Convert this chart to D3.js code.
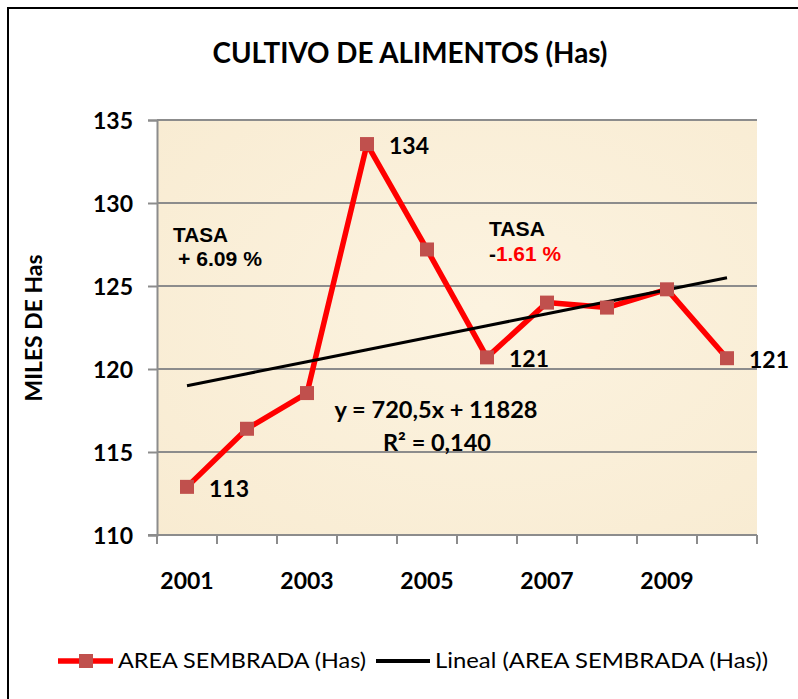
<!DOCTYPE html>
<html>
<head>
<meta charset="utf-8">
<script src="https://cdn.jsdelivr.net/npm/d3@7"></script>
<style>
body { margin: 0; background: #fff; }
svg { display: block; }
</style>
</head>
<body>
<div id="chart"></div>
<script>
var years = ["2001", "2002", "2003", "2004", "2005", "2006", "2007", "2008", "2009", "2010"];
var areaSembrada = [112.9, 116.4, 118.55, 133.55, 127.2, 120.7, 124.0, 123.7, 124.8, 120.65];
var shownLabels = { "2001": "113", "2004": "134", "2006": "121", "2010": "121" };
var xTickLabels = ["2001", "2003", "2005", "2007", "2009"];
var yTicks = [110, 115, 120, 125, 130, 135];

var width = 798, height = 699;
var plotL = 157, plotR = 757, plotT = 120, plotB = 535;
var font = "Lato, 'Open Sans', sans-serif";
var arial = "'Liberation Sans', Arial, sans-serif";

var svg = d3.select("#chart").append("svg")
    .attr("width", width)
    .attr("height", height);

// outer border
svg.append("rect")
    .attr("x", 8).attr("y", 8)
    .attr("width", 820).attr("height", 720)
    .attr("fill", "#fff")
    .attr("stroke", "#000")
    .attr("stroke-width", 2);

var x = d3.scaleBand().domain(years).range([plotL, plotR]);
var y = d3.scaleLinear().domain([110, 135]).range([plotB, plotT]);
var cx = function (d) { return x(d) + x.bandwidth() / 2; };

// parchment-ish background
var defs = svg.append("defs");
var grad = defs.append("radialGradient").attr("id", "parch")
    .attr("cx", "55%").attr("cy", "45%").attr("r", "80%");
grad.append("stop").attr("offset", "0%").attr("stop-color", "#fcf3e0");
grad.append("stop").attr("offset", "100%").attr("stop-color", "#f8ebd1");

svg.append("rect")
    .attr("x", plotL).attr("y", plotT)
    .attr("width", plotR - plotL).attr("height", plotB - plotT)
    .attr("fill", "url(#parch)");

// grid lines
svg.selectAll("line.grid")
    .data(yTicks.slice(1))
    .enter().append("line")
    .attr("class", "grid")
    .attr("x1", plotL).attr("x2", plotR)
    .attr("y1", function (d) { return y(d); })
    .attr("y2", function (d) { return y(d); })
    .attr("stroke", "#8c8c8c")
    .attr("stroke-width", 2);

// y axis
var yAxis = svg.append("g")
    .attr("transform", "translate(" + plotL + ",0)")
    .call(d3.axisLeft(y).tickValues(yTicks).tickSize(9).tickPadding(15));
yAxis.select(".domain").attr("stroke", "#8c8c8c").attr("stroke-width", 2);
yAxis.selectAll(".tick line").attr("stroke", "#8c8c8c").attr("stroke-width", 2);
yAxis.selectAll(".tick text")
    .style("font-family", font).style("font-size", "23px").style("font-weight", "bold")
    .attr("fill", "#000").attr("dy", "0.35em");

// x axis: ticks at category boundaries
var xBounds = years.map(function (d) { return x(d); }).concat([plotR]);
svg.append("line")
    .attr("x1", plotL - 9).attr("x2", plotR)
    .attr("y1", plotB).attr("y2", plotB)
    .attr("stroke", "#8c8c8c").attr("stroke-width", 2);
svg.selectAll("line.xtick")
    .data(xBounds)
    .enter().append("line")
    .attr("class", "xtick")
    .attr("x1", function (d) { return d; }).attr("x2", function (d) { return d; })
    .attr("y1", plotB).attr("y2", plotB + 9)
    .attr("stroke", "#8c8c8c").attr("stroke-width", 2);
svg.selectAll("text.xlab")
    .data(xTickLabels)
    .enter().append("text")
    .attr("class", "xlab")
    .attr("x", cx)
    .attr("y", 589)
    .attr("text-anchor", "middle")
    .style("font-family", font).style("font-size", "23px").style("font-weight", "bold")
    .text(function (d) { return d; });

// linear trend (least squares over the series)
var n = areaSembrada.length;
var mx = d3.mean(d3.range(1, n + 1)), my = d3.mean(areaSembrada);
var sxy = 0, sxx = 0;
areaSembrada.forEach(function (v, i) {
    sxy += (i + 1 - mx) * (v - my);
    sxx += (i + 1 - mx) * (i + 1 - mx);
});
var slope = sxy / sxx, icpt = my - slope * mx;
var trend = years.map(function (d, i) { return { year: d, v: icpt + slope * (i + 1) }; });

var series = years.map(function (d, i) { return { year: d, v: areaSembrada[i] }; });

var line = d3.line()
    .x(function (d) { return cx(d.year); })
    .y(function (d) { return y(d.v); });

svg.append("path")
    .datum(series)
    .attr("d", line)
    .attr("fill", "none")
    .attr("stroke", "#ff0000")
    .attr("stroke-width", 5.5)
    .attr("stroke-linejoin", "round");

svg.append("path")
    .datum(trend)
    .attr("d", line)
    .attr("fill", "none")
    .attr("stroke", "#000")
    .attr("stroke-width", 3);

svg.selectAll("rect.mk")
    .data(series)
    .enter().append("rect")
    .attr("class", "mk")
    .attr("x", function (d) { return cx(d.year) - 7; })
    .attr("y", function (d) { return y(d.v) - 7; })
    .attr("width", 14).attr("height", 14)
    .attr("fill", "#c0504d");

svg.selectAll("text.vlab")
    .data(series.filter(function (d) { return shownLabels[d.year]; }))
    .enter().append("text")
    .attr("class", "vlab")
    .attr("x", function (d) { return cx(d.year) + 22; })
    .attr("y", function (d) { return y(d.v) + 10; })
    .style("font-family", font).style("font-size", "23px").style("font-weight", "bold")
    .text(function (d) { return shownLabels[d.year]; });

// annotations
function label(tx, ty, txt, opts) {
    var t = svg.append("text").attr("x", tx).attr("y", ty)
        .style("font-family", opts.family || font)
        .style("font-size", opts.size + "px")
        .style("font-weight", opts.weight || "bold");
    if (opts.anchor) t.attr("text-anchor", opts.anchor);
    if (opts.len) t.attr("textLength", opts.len).attr("lengthAdjust", "spacingAndGlyphs");
    if (txt) t.text(txt);
    return t;
}

label(173, 242, "TASA", { family: arial, size: 20, len: 55 });
label(178, 266, "+ 6.09 %", { family: arial, size: 20, len: 84 });
label(489, 236, "TASA", { family: arial, size: 20, len: 56 });
var t2 = label(489, 261, null, { family: arial, size: 20, len: 72 });
t2.append("tspan").attr("fill", "#000").text("-");
t2.append("tspan").attr("fill", "#ff0000").text("1.61 %");

label(436, 418, "y = 720,5x + 11828", { size: 23, anchor: "middle", len: 203 });
label(437, 451, "R² = 0,140", { size: 23, anchor: "middle", len: 108 });

// title
label(410, 63, "CULTIVO DE ALIMENTOS (Has)", { size: 28, anchor: "middle", len: 395 });

// y title
svg.append("text")
    .attr("transform", "translate(42,328) rotate(-90)")
    .attr("text-anchor", "middle")
    .attr("textLength", 147).attr("lengthAdjust", "spacingAndGlyphs")
    .style("font-family", font).style("font-size", "23px").style("font-weight", "bold")
    .text("MILES DE Has");

// legend
var ly = 661;
svg.append("line").attr("x1", 58).attr("x2", 113).attr("y1", ly).attr("y2", ly)
    .attr("stroke", "#ff0000").attr("stroke-width", 5.5);
svg.append("rect").attr("x", 79).attr("y", ly - 7).attr("width", 14).attr("height", 14)
    .attr("fill", "#c0504d");
label(118, ly + 7, "AREA SEMBRADA (Has)", { size: 21, weight: "normal", len: 248 });
svg.append("line").attr("x1", 376).attr("x2", 430).attr("y1", ly).attr("y2", ly)
    .attr("stroke", "#000").attr("stroke-width", 4);
label(435, ly + 7, "Lineal (AREA SEMBRADA (Has))", { size: 21, weight: "normal", len: 333 });
</script>
</body>
</html>
